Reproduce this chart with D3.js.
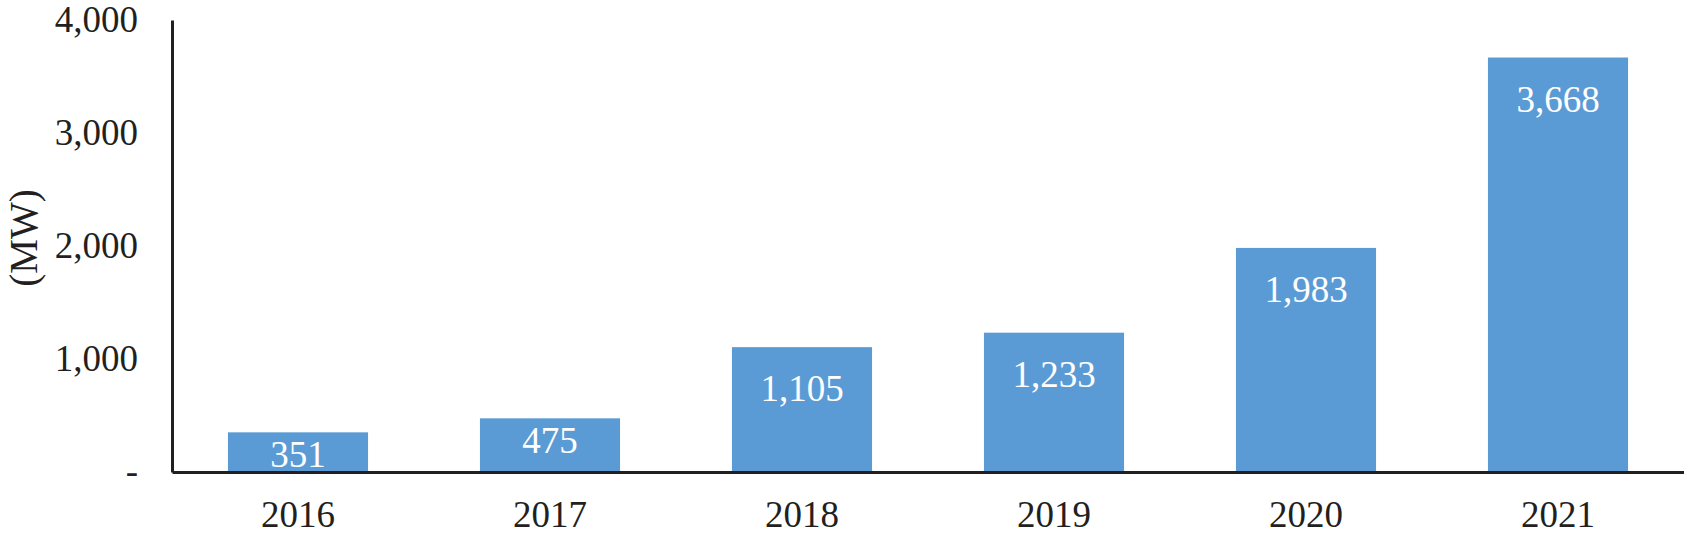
<!DOCTYPE html>
<html>
<head>
<meta charset="utf-8">
<script src="https://cdn.jsdelivr.net/npm/d3@7"></script>
<style>
  html, body { margin: 0; padding: 0; background: #fff; }
  svg { display: block; }
</style>
</head>
<body>
<script>
const years = ["2016", "2017", "2018", "2019", "2020", "2021"];
const capacity = [351, 475, 1105, 1233, 1983, 3668];
const yTicks = [0, 1000, 2000, 3000, 4000];
const yTitle = "(MW)";

const W = 1684, H = 539;
const margin = { left: 172, right: 0, top: 20, bottom: 67 };
const ink = "#231f20";
const barColor = "#5b9bd5";
const fontSize = 37;
const serif = '"Liberation Serif", "Times New Roman", serif';

const svg = d3.select("body").append("svg").attr("width", W).attr("height", H);

const x = d3.scaleBand().domain(years)
  .range([margin.left, W - margin.right])
  .paddingInner(0.444).paddingOuter(0.222);
const y = d3.scaleLinear().domain([0, 4000]).range([H - margin.bottom, margin.top]);

const fmt = d3.format(",");

// bars
svg.append("g").selectAll("rect").data(years).join("rect")
  .attr("x", d => x(d))
  .attr("width", x.bandwidth())
  .attr("y", (d, i) => y(capacity[i]))
  .attr("height", (d, i) => y(0) - y(capacity[i]))
  .attr("fill", barColor);

// data labels
svg.append("g").selectAll("text").data(years).join("text")
  .attr("x", d => x(d) + x.bandwidth() / 2)
  .attr("y", (d, i) => {
    const h = y(0) - y(capacity[i]);
    return y(capacity[i]) + (h < 60 ? 35 : 54);
  })
  .attr("text-anchor", "middle")
  .attr("fill", "#fff")
  .attr("font-size", fontSize)
  .style("font-family", serif)
  .text((d, i) => fmt(capacity[i]));

// y axis
const yAxis = d3.axisLeft(y).tickValues(yTicks)
  .tickSize(0).tickPadding(34)
  .tickFormat(d => d === 0 ? "-" : fmt(d));
const gy = svg.append("g").attr("transform", `translate(${margin.left},0)`).call(yAxis);
gy.select(".domain").attr("stroke", ink).attr("stroke-width", 3);
gy.selectAll("text").attr("font-size", fontSize).attr("fill", ink)
  .style("font-family", serif);

// x axis
const xAxis = d3.axisBottom(x).tickSize(0).tickPadding(29);
const gx = svg.append("g").attr("transform", `translate(0,${y(0)})`).call(xAxis);
gx.select(".domain").attr("stroke", ink).attr("stroke-width", 3);
gx.selectAll("text").attr("font-size", fontSize).attr("fill", ink)
  .style("font-family", serif);

// y title
svg.append("text")
  .attr("transform", `translate(37,238) rotate(-90)`)
  .attr("text-anchor", "middle")
  .attr("font-size", 39)
  .attr("fill", ink)
  .style("font-family", serif)
  .text(yTitle);
</script>
</body>
</html>
